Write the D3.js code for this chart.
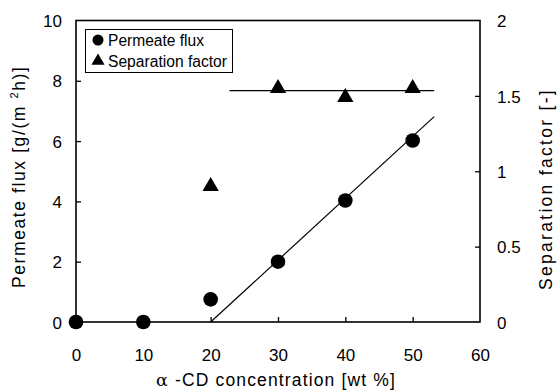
<!DOCTYPE html>
<html>
<head>
<meta charset="utf-8">
<script src="https://cdn.jsdelivr.net/npm/d3@7"></script>
<style>
  body { margin: 0; background: #fff; }
  text { font-family: "Liberation Sans", Arial, sans-serif; fill: #000; }
</style>
</head>
<body>
<div id="chart"></div>
<script>
// data
var concentration = [0, 10, 20, 30, 40, 50];
var permeateFlux = [0, 0, 0.75, 2.0, 4.03, 6.02];
var sepConcentration = [20, 30, 40, 50];
var separationFactor = [0.9, 1.55, 1.49, 1.55];
// fitted lines (x, y) in data units
var fluxFit = [[20, 0], [53.2, 6.81]];
var sepFit = [[22.8, 1.535], [53.2, 1.535]];
var xTicks = [0, 10, 20, 30, 40, 50, 60];
var yTicks = [0, 2, 4, 6, 8, 10];
var y2Ticks = [0, 0.5, 1, 1.5, 2];

var width = 560, height = 392;
var margin = {top: 20.5, right: 80, bottom: 70, left: 76};

var svg = d3.select("#chart").append("svg")
    .attr("width", width)
    .attr("height", height);

var x = d3.scaleLinear().domain([0, 60]).range([margin.left, width - margin.right]);
var y = d3.scaleLinear().domain([0, 10]).range([height - margin.bottom, margin.top]);
var y2 = d3.scaleLinear().domain([0, 2]).range([height - margin.bottom, margin.top]);

var tickLen = 5;

// stretch a text's letter spacing so it covers a given length
function fitLength(sel, target) {
    var node = sel.node();
    var natural = node.getComputedTextLength();
    var n = node.textContent.length;
    sel.style("letter-spacing", ((target - natural) / n) + "px");
}

// frame
svg.append("rect")
    .attr("x", x(0))
    .attr("y", y(10))
    .attr("width", x(60) - x(0))
    .attr("height", y(0) - y(10))
    .style("fill", "none")
    .style("stroke", "#000")
    .style("stroke-width", 1.6);

// bottom axis: ticks inward
var xAxis = svg.append("g")
    .attr("transform", "translate(0," + y(0) + ")")
    .call(d3.axisBottom(x).tickValues(xTicks).tickSizeInner(-tickLen).tickSizeOuter(0).tickPadding(tickLen + 34)
        .tickFormat(d3.format("d")));
xAxis.select(".domain").remove();
xAxis.selectAll("line").style("stroke-width", 1.3).filter(function(d) { return d == 0 || d == 60; }).remove();
xAxis.selectAll("text").style("font-size", "17px").attr("dy", 0);

// left axis
var yAxis = svg.append("g")
    .attr("transform", "translate(" + x(0) + ",0)")
    .call(d3.axisLeft(y).tickValues(yTicks).tickSizeInner(-tickLen).tickSizeOuter(0).tickPadding(tickLen + 9));
yAxis.select(".domain").remove();
yAxis.selectAll("line").style("stroke-width", 1.3).filter(function(d) { return d == 0 || d == 10; }).remove();
yAxis.selectAll("text").style("font-size", "17px").attr("dy", "0.36em");

// right axis
var y2Axis = svg.append("g")
    .attr("transform", "translate(" + x(60) + ",0)")
    .call(d3.axisRight(y2).tickValues(y2Ticks).tickSizeInner(-tickLen).tickSizeOuter(0).tickPadding(tickLen + 12)
        .tickFormat(function(d) { return d; }));
y2Axis.select(".domain").remove();
y2Axis.selectAll("line").style("stroke-width", 1.3).filter(function(d) { return d == 0 || d == 2; }).remove();
y2Axis.selectAll("text").style("font-size", "17px").attr("dy", "0.36em");

// fit lines
var line = d3.line().x(function(d) { return x(d[0]); });
svg.append("path")
    .datum(fluxFit)
    .attr("d", line.y(function(d) { return y(d[1]); }))
    .style("fill", "none").style("stroke", "#000").style("stroke-width", 1.2);
svg.append("path")
    .datum(sepFit)
    .attr("d", line.y(function(d) { return y2(d[1]); }))
    .style("fill", "none").style("stroke", "#000").style("stroke-width", 1.2);

var triangle = d3.symbol().type(d3.symbolTriangle).size(115);

// permeate flux markers
svg.append("g").selectAll("circle")
    .data(concentration)
    .enter()
    .append("circle")
        .attr("cx", function(d) { return x(d); })
        .attr("cy", function(d, i) { return y(permeateFlux[i]); })
        .attr("r", 7.3)
        .style("fill", "#000");

// separation factor markers
svg.append("g").selectAll("path")
    .data(sepConcentration)
    .enter()
    .append("path")
        .attr("d", triangle)
        .attr("transform", function(d, i) {
            return "translate(" + x(d) + "," + y2(separationFactor[i]) + ")";
        })
        .style("fill", "#000");

// legend
var legend = svg.append("g").classed("legend", true);
legend.append("rect")
    .attr("x", 85.5).attr("y", 29.5)
    .attr("width", 147).attr("height", 43)
    .style("fill", "#fff").style("stroke", "#000").style("stroke-width", 1);
legend.append("circle")
    .attr("cx", 98).attr("cy", 40).attr("r", 5.5).style("fill", "#000");
legend.append("path")
    .attr("d", d3.symbol().type(d3.symbolTriangle).size(75))
    .attr("transform", "translate(98,61)")
    .style("fill", "#000");
legend.append("text")
    .attr("x", 108).attr("y", 46)
    .attr("textLength", 96).attr("lengthAdjust", "spacingAndGlyphs")
    .style("font-size", "16px")
    .text("Permeate flux");
legend.append("text")
    .attr("x", 108).attr("y", 67)
    .attr("textLength", 119).attr("lengthAdjust", "spacingAndGlyphs")
    .style("font-size", "16px")
    .text("Separation factor");

// axis titles
var xTitle = svg.append("text")
    .attr("x", 156).attr("y", 386)
    .style("font-size", "17.5px");
xTitle.append("tspan").style("font-family", "'DejaVu Serif', serif").text("α");
xTitle.append("tspan").text(" -CD concentration [wt %]");
fitLength(xTitle, 240);

var yTitle = svg.append("text")
    .attr("transform", "translate(25,288) rotate(-90)")
    .style("font-size", "17.5px");
yTitle.append("tspan").text("Permeate flux [g/(m  ");
yTitle.append("tspan").attr("dy", -7).style("font-size", "11px").text("2");
yTitle.append("tspan").attr("dy", 7).text("h)]");
fitLength(yTitle, 224);

var y2Title = svg.append("text")
    .attr("transform", "translate(552,290) rotate(-90)")
    .style("font-size", "17.5px")
    .text("Separation factor [-]");
fitLength(y2Title, 202);
</script>
</body>
</html>
